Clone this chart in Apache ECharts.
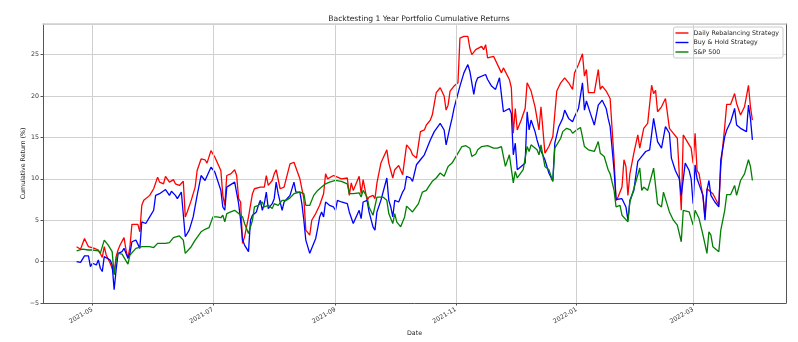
<!DOCTYPE html>
<html><head><meta charset="utf-8">
<script src="https://cdn.jsdelivr.net/npm/echarts@6/dist/echarts.min.js"></script>
<style>html,body{margin:0;padding:0;background:#fff}#c{width:798px;height:342px}</style>
</head><body><div id="c"></div>
<script>
const tickDates = ['2021-05-01','2021-07-01','2021-09-01','2021-11-01','2022-01-01','2022-03-01'];
const xRange = ['2021-04-06','2022-04-17'];
const yTicks = [-5,0,5,10,15,20,25];

const dailyRebalancing = [
['2021-04-23',1.8],['2021-04-25',1.5],['2021-04-27',2.8],['2021-04-29',1.8],['2021-04-30',1.9],['2021-05-02',1.6],['2021-05-04',1.4],['2021-05-05',1.0],['2021-05-06',0.5],['2021-05-07',1.8],['2021-05-08',0.8],['2021-05-10',-0.2],['2021-05-11',-0.8],['2021-05-12',-1.5],['2021-05-13',0.6],['2021-05-14',1.4],['2021-05-15',2.0],['2021-05-17',2.9],['2021-05-18',1.4],['2021-05-19',0.4],['2021-05-20',1.8],['2021-05-21',4.5],['2021-05-24',4.5],['2021-05-25',3.6],['2021-05-26',6.8],['2021-05-27',7.4],['2021-05-30',8.0],
['2021-06-01',8.8],['2021-06-03',10.2],['2021-06-04',9.6],['2021-06-06',9.4],['2021-06-07',10.3],['2021-06-09',9.6],['2021-06-11',9.9],['2021-06-12',9.4],['2021-06-14',9.2],['2021-06-16',9.7],['2021-06-17',5.4],['2021-06-18',6.0],['2021-06-20',7.4],['2021-06-22',9.0],['2021-06-23',11.0],['2021-06-25',12.4],['2021-06-27',12.3],['2021-06-28',11.9],['2021-06-30',13.4],
['2021-07-02',12.6],['2021-07-05',11.0],['2021-07-06',8.0],['2021-07-07',6.8],['2021-07-08',10.4],['2021-07-10',10.6],['2021-07-12',11.1],['2021-07-13',10.4],['2021-07-14',7.6],['2021-07-15',7.2],['2021-07-16',2.2],['2021-07-17',3.0],['2021-07-19',5.4],['2021-07-21',8.2],['2021-07-22',8.8],['2021-07-25',9.0],['2021-07-27',9.0],['2021-07-28',10.4],['2021-07-29',9.2],['2021-07-31',9.8],
['2021-08-01',10.6],['2021-08-02',11.1],['2021-08-04',8.8],['2021-08-06',9.0],['2021-08-07',9.2],['2021-08-09',11.8],['2021-08-11',12.0],['2021-08-14',10.0],['2021-08-16',7.6],['2021-08-17',3.8],['2021-08-19',3.2],['2021-08-20',5.0],['2021-08-22',5.8],['2021-08-24',6.8],['2021-08-26',8.2],['2021-08-27',10.6],['2021-08-28',10.0],['2021-08-31',10.4],
['2021-09-02',10.2],['2021-09-04',10.0],['2021-09-07',10.1],['2021-09-08',8.0],['2021-09-09',9.5],['2021-09-10',8.6],['2021-09-13',10.3],['2021-09-14',8.2],['2021-09-15',9.9],['2021-09-16',9.9],['2021-09-17',7.4],['2021-09-18',7.8],['2021-09-20',8.0],['2021-09-21',7.6],['2021-09-22',9.5],['2021-09-24',11.9],['2021-09-27',13.5],['2021-09-28',11.9],['2021-09-30',10.1],
['2021-10-01',11.1],['2021-10-03',11.6],['2021-10-04',11.5],['2021-10-05',10.5],['2021-10-07',14.1],['2021-10-09',13.5],['2021-10-10',12.9],['2021-10-12',12.5],['2021-10-14',15.7],['2021-10-16',15.9],['2021-10-17',16.5],['2021-10-18',16.3],['2021-10-19',17.1],['2021-10-20',17.7],['2021-10-22',20.4],['2021-10-24',21.0],['2021-10-26',20.0],['2021-10-27',18.3],['2021-10-28',18.9],['2021-10-29',20.6],['2021-10-31',21.2],
['2021-11-01',21.4],['2021-11-02',21.6],['2021-11-03',27.0],['2021-11-05',27.2],['2021-11-07',27.2],['2021-11-08',25.8],['2021-11-09',25.0],['2021-11-11',25.6],['2021-11-14',26.0],['2021-11-15',25.6],['2021-11-16',26.2],['2021-11-17',24.6],['2021-11-20',24.8],['2021-11-21',24.7],['2021-11-24',22.8],['2021-11-25',23.4],['2021-11-28',22.0],['2021-11-29',21.0],['2021-11-30',15.5],
['2021-12-01',18.5],['2021-12-02',15.9],['2021-12-04',17.1],['2021-12-06',18.5],['2021-12-07',21.6],['2021-12-09',20.6],['2021-12-11',18.7],['2021-12-13',15.9],['2021-12-14',18.7],['2021-12-16',13.1],['2021-12-18',13.9],['2021-12-20',15.1],['2021-12-22',20.6],['2021-12-24',21.6],['2021-12-26',22.2],['2021-12-28',21.6],['2021-12-30',20.8],['2021-12-31',22.8],
['2022-01-02',23.8],['2022-01-04',25.1],['2022-01-05',22.4],['2022-01-06',23.2],['2022-01-07',20.4],['2022-01-10',20.4],['2022-01-12',23.2],['2022-01-13',20.8],['2022-01-14',21.2],['2022-01-16',20.6],['2022-01-18',19.7],['2022-01-20',12.3],['2022-01-21',7.4],['2022-01-22',7.8],['2022-01-24',9.0],['2022-01-25',12.3],['2022-01-26',11.5],['2022-01-27',8.0],['2022-01-28',10.6],['2022-01-30',13.1],
['2022-02-01',15.3],['2022-02-02',13.7],['2022-02-04',16.1],['2022-02-06',16.7],['2022-02-08',21.3],['2022-02-09',20.3],['2022-02-10',20.7],['2022-02-11',18.1],['2022-02-13',18.7],['2022-02-15',19.7],['2022-02-16',19.5],['2022-02-17',16.1],['2022-02-19',15.5],['2022-02-21',14.9],['2022-02-23',6.2],['2022-02-24',15.3],['2022-02-26',14.5],['2022-02-28',13.7],
['2022-03-01',11.9],['2022-03-02',15.5],['2022-03-03',11.0],['2022-03-04',10.6],['2022-03-06',7.8],['2022-03-07',5.4],['2022-03-08',8.8],['2022-03-11',8.2],['2022-03-14',6.8],['2022-03-15',11.5],['2022-03-17',16.3],['2022-03-18',19.0],['2022-03-20',19.0],['2022-03-22',20.3],['2022-03-23',19.1],['2022-03-25',17.7],['2022-03-27',18.7],['2022-03-29',21.3],['2022-03-30',18.7],['2022-03-31',17.1]
];

const buyHold = [
['2021-04-23',0.0],['2021-04-25',-0.1],['2021-04-27',0.7],['2021-04-29',0.7],['2021-04-30',-0.6],['2021-05-01',-0.2],['2021-05-03',-0.4],['2021-05-04',0.2],['2021-05-05',-0.8],['2021-05-06',-1.2],['2021-05-07',0.6],['2021-05-08',0.5],['2021-05-10',0.2],['2021-05-11',-0.4],['2021-05-12',-3.4],['2021-05-13',-1.0],['2021-05-14',1.0],['2021-05-16',1.2],['2021-05-17',1.6],['2021-05-19',0.4],['2021-05-20',1.0],['2021-05-21',2.4],['2021-05-23',2.6],['2021-05-25',1.6],['2021-05-26',4.8],['2021-05-28',4.6],['2021-05-30',5.4],
['2021-06-01',6.2],['2021-06-02',8.0],['2021-06-04',8.2],['2021-06-07',8.7],['2021-06-09',8.0],['2021-06-10',8.5],['2021-06-12',8.0],['2021-06-13',7.6],['2021-06-15',8.4],['2021-06-16',8.6],['2021-06-17',3.0],['2021-06-19',3.8],['2021-06-21',5.4],['2021-06-23',8.0],['2021-06-25',10.4],['2021-06-27',9.8],['2021-06-28',9.7],['2021-06-30',11.4],
['2021-07-02',10.8],['2021-07-05',8.6],['2021-07-06',6.6],['2021-07-07',6.2],['2021-07-08',9.0],['2021-07-12',9.6],['2021-07-13',9.4],['2021-07-14',7.0],['2021-07-15',5.0],['2021-07-16',2.6],['2021-07-17',2.0],['2021-07-19',1.2],['2021-07-20',5.0],['2021-07-21',5.6],['2021-07-23',6.0],['2021-07-24',6.8],['2021-07-25',7.4],['2021-07-26',6.2],['2021-07-27',7.0],['2021-07-28',8.4],['2021-07-29',6.4],['2021-07-31',7.0],
['2021-08-01',7.6],['2021-08-02',9.6],['2021-08-03',8.2],['2021-08-05',6.2],['2021-08-06',7.2],['2021-08-07',7.4],['2021-08-09',8.0],['2021-08-11',9.6],['2021-08-12',8.4],['2021-08-14',8.4],['2021-08-15',7.0],['2021-08-16',5.0],['2021-08-17',2.6],['2021-08-19',1.0],['2021-08-20',1.6],['2021-08-22',2.8],['2021-08-23',4.0],['2021-08-24',5.4],['2021-08-25',6.0],['2021-08-26',5.4],['2021-08-27',7.2],['2021-08-29',6.8],['2021-08-31',6.6],
['2021-09-01',6.2],['2021-09-02',7.4],['2021-09-04',7.2],['2021-09-07',7.0],['2021-09-08',6.0],['2021-09-09',6.2],['2021-09-10',4.6],['2021-09-13',6.2],['2021-09-14',5.2],['2021-09-15',7.2],['2021-09-17',7.4],['2021-09-18',6.0],['2021-09-20',4.2],['2021-09-21',3.8],['2021-09-22',6.0],['2021-09-24',7.4],['2021-09-27',10.1],['2021-09-28',7.4],['2021-09-29',6.6],['2021-09-30',5.4],
['2021-10-01',7.4],['2021-10-03',7.2],['2021-10-04',7.0],['2021-10-05',8.4],['2021-10-06',8.8],['2021-10-07',10.3],['2021-10-09',10.1],['2021-10-10',9.7],['2021-10-12',11.7],['2021-10-14',12.3],['2021-10-16',12.9],['2021-10-17',12.8],['2021-10-19',14.7],['2021-10-21',15.7],['2021-10-24',16.7],['2021-10-26',15.9],['2021-10-27',14.1],['2021-10-29',16.3],['2021-10-30',17.3],['2021-10-31',18.5],
['2021-11-01',18.7],['2021-11-03',21.2],['2021-11-05',22.8],['2021-11-07',23.8],['2021-11-08',23.0],['2021-11-10',20.2],['2021-11-11',21.6],['2021-11-12',22.2],['2021-11-16',22.6],['2021-11-17',22.0],['2021-11-19',21.2],['2021-11-21',20.8],['2021-11-22',20.6],['2021-11-23',22.2],['2021-11-25',18.1],['2021-11-28',18.5],['2021-11-29',17.9],['2021-11-30',12.9],
['2021-12-01',14.3],['2021-12-02',11.1],['2021-12-04',11.5],['2021-12-06',11.9],['2021-12-07',18.1],['2021-12-08',15.9],['2021-12-09',17.1],['2021-12-11',15.7],['2021-12-12',14.7],['2021-12-13',13.9],['2021-12-14',14.1],['2021-12-16',12.3],['2021-12-17',11.5],['2021-12-18',10.7],['2021-12-20',9.7],['2021-12-21',14.3],['2021-12-23',16.3],['2021-12-25',17.3],['2021-12-26',18.3],['2021-12-28',17.3],['2021-12-30',16.9],['2021-12-31',17.5],
['2022-01-02',18.5],['2022-01-04',21.6],['2022-01-05',18.3],['2022-01-06',19.4],['2022-01-08',17.9],['2022-01-10',16.5],['2022-01-12',18.9],['2022-01-13',19.2],['2022-01-14',19.5],['2022-01-16',18.5],['2022-01-17',17.3],['2022-01-18',16.3],['2022-01-20',11.0],['2022-01-21',7.5],['2022-01-24',7.6],['2022-01-26',6.6],['2022-01-27',5.0],['2022-01-28',7.4],['2022-01-30',8.6],
['2022-02-01',12.1],['2022-02-03',12.7],['2022-02-05',13.3],['2022-02-07',13.5],['2022-02-09',17.3],['2022-02-11',14.5],['2022-02-13',13.7],['2022-02-15',16.3],['2022-02-17',15.5],['2022-02-18',12.5],['2022-02-20',11.0],['2022-02-22',10.0],['2022-02-23',8.0],['2022-02-25',11.9],['2022-02-27',11.0],['2022-02-28',10.0],
['2022-03-01',7.0],['2022-03-02',11.7],['2022-03-03',10.0],['2022-03-04',10.2],['2022-03-06',8.0],['2022-03-07',5.0],['2022-03-08',8.6],['2022-03-09',9.8],['2022-03-10',8.0],['2022-03-12',7.2],['2022-03-14',6.6],['2022-03-15',12.3],['2022-03-17',15.1],['2022-03-18',15.9],['2022-03-20',16.9],['2022-03-22',18.5],['2022-03-23',16.5],['2022-03-25',16.1],['2022-03-28',15.7],['2022-03-29',18.9],['2022-03-30',17.3],['2022-03-31',14.7]
];

const sp500 = [
['2021-04-23',1.3],['2021-04-26',1.5],['2021-04-29',1.4],['2021-05-01',1.4],['2021-05-04',1.3],['2021-05-05',1.0],['2021-05-07',2.6],['2021-05-09',2.0],['2021-05-11',1.2],['2021-05-12',-1.6],['2021-05-13',0.2],['2021-05-14',1.0],['2021-05-16',0.9],['2021-05-19',-0.3],['2021-05-20',0.8],['2021-05-21',0.8],['2021-05-23',1.6],['2021-05-26',1.8],['2021-05-30',1.8],
['2021-06-01',1.7],['2021-06-03',2.2],['2021-06-07',2.2],['2021-06-09',2.3],['2021-06-11',2.9],['2021-06-14',3.1],['2021-06-16',2.6],['2021-06-17',1.0],['2021-06-20',1.8],['2021-06-22',2.6],['2021-06-25',3.6],['2021-06-27',3.9],['2021-06-29',4.1],
['2021-07-01',5.4],['2021-07-03',5.4],['2021-07-05',5.3],['2021-07-06',5.6],['2021-07-07',4.8],['2021-07-08',5.8],['2021-07-10',6.0],['2021-07-12',6.2],['2021-07-14',5.8],['2021-07-16',5.4],['2021-07-17',4.6],['2021-07-19',3.4],['2021-07-21',5.0],['2021-07-22',6.6],['2021-07-24',6.8],['2021-07-26',7.2],['2021-07-27',6.6],['2021-07-29',6.8],['2021-07-31',6.4],
['2021-08-01',7.0],['2021-08-03',6.8],['2021-08-05',7.4],['2021-08-07',7.4],['2021-08-09',7.7],['2021-08-11',8.2],['2021-08-14',8.4],['2021-08-16',8.2],['2021-08-17',6.8],['2021-08-19',6.8],['2021-08-21',8.0],['2021-08-23',8.6],['2021-08-25',9.0],['2021-08-27',9.4],['2021-08-29',9.6],
['2021-09-01',9.8],['2021-09-02',9.9],['2021-09-04',9.7],['2021-09-07',9.4],['2021-09-08',8.2],['2021-09-10',8.2],['2021-09-13',8.3],['2021-09-14',7.8],['2021-09-15',8.6],['2021-09-17',7.8],['2021-09-18',6.6],['2021-09-20',5.6],['2021-09-21',5.8],['2021-09-22',7.8],['2021-09-25',7.8],['2021-09-27',7.4],['2021-09-28',5.8],['2021-09-30',4.6],
['2021-10-01',5.8],['2021-10-02',4.8],['2021-10-04',4.2],['2021-10-06',5.4],['2021-10-07',6.7],['2021-10-10',6.0],['2021-10-13',7.0],['2021-10-15',8.4],['2021-10-17',8.6],['2021-10-18',9.0],['2021-10-20',9.7],['2021-10-22',10.1],['2021-10-24',10.7],['2021-10-25',10.9],['2021-10-26',10.3],['2021-10-28',11.5],['2021-10-30',11.9],['2021-10-31',12.1],
['2021-11-02',13.1],['2021-11-04',13.9],['2021-11-06',14.0],['2021-11-08',13.7],['2021-11-09',12.7],['2021-11-11',13.0],['2021-11-12',13.5],['2021-11-14',13.9],['2021-11-17',14.0],['2021-11-20',13.7],['2021-11-22',13.7],['2021-11-24',13.9],['2021-11-26',11.5],['2021-11-28',12.9],['2021-11-30',9.5],
['2021-12-01',10.9],['2021-12-02',10.1],['2021-12-05',11.1],['2021-12-07',13.9],['2021-12-08',13.3],['2021-12-09',14.1],['2021-12-12',13.5],['2021-12-13',12.9],['2021-12-14',14.1],['2021-12-16',11.5],['2021-12-18',11.1],['2021-12-20',9.7],['2021-12-21',13.7],['2021-12-24',14.9],['2021-12-25',15.7],['2021-12-27',16.1],['2021-12-29',15.9],['2021-12-30',15.5],
['2022-01-01',15.9],['2022-01-03',16.2],['2022-01-04',16.2],['2022-01-05',13.9],['2022-01-07',13.5],['2022-01-10',13.3],['2022-01-12',14.5],['2022-01-13',13.1],['2022-01-15',12.7],['2022-01-17',11.1],['2022-01-18',10.6],['2022-01-20',8.6],['2022-01-21',6.6],['2022-01-23',6.8],['2022-01-24',5.6],['2022-01-27',4.8],['2022-01-28',7.2],['2022-01-30',8.8],
['2022-02-02',11.3],['2022-02-03',8.6],['2022-02-04',9.0],['2022-02-06',8.6],['2022-02-09',11.3],['2022-02-11',7.0],['2022-02-13',6.6],['2022-02-14',8.4],['2022-02-17',6.0],['2022-02-19',5.0],['2022-02-21',4.4],['2022-02-23',2.4],['2022-02-24',6.2],['2022-02-27',6.0],
['2022-03-01',4.4],['2022-03-02',6.2],['2022-03-04',5.2],['2022-03-06',3.2],['2022-03-08',1.0],['2022-03-09',3.6],['2022-03-10',3.2],['2022-03-11',1.8],['2022-03-14',1.2],['2022-03-15',3.8],['2022-03-17',6.2],['2022-03-18',8.1],['2022-03-20',8.1],['2022-03-21',8.0],['2022-03-22',9.2],['2022-03-23',8.0],['2022-03-25',9.8],['2022-03-27',10.6],['2022-03-29',12.3],['2022-03-30',11.5],['2022-03-31',9.8]
];

const FONT = 'DejaVu Sans';
const ts = s => new Date(s + 'T00:00:00').getTime();
const tickTs = tickDates.map(ts);
const mk = (name, data, color) => ({
  name, type: 'line', data: data.map(d => [ts(d[0]), d[1]]),
  showSymbol: false, symbol: 'none', lineStyle: { color, width: 1.3 }, itemStyle: { color }, z: 3
});
const fmtMonth = v => { const d = new Date(v); return d.getFullYear() + '-' + String(d.getMonth() + 1).padStart(2, '0'); };

const series = [
  mk('Daily Rebalancing Strategy', dailyRebalancing, '#ff0000'),
  mk('Buy & Hold Strategy', buyHold, '#0000ff'),
  mk('S&P 500', sp500, '#008000')
];
// vertical grid lines at the date ticks
series.push({
  name: 'xgrid', type: 'line', data: [], silent: true, z: 1,
  markLine: {
    silent: true, symbol: 'none', animation: false,
    label: { show: false },
    lineStyle: { color: '#d0d0d0', width: 1, type: 'solid' },
    data: tickTs.map(t => ({ xAxis: t }))
  }
});

const spine = '#555';
const chart = echarts.init(document.getElementById('c'), null, { renderer: 'canvas' });
chart.setOption({
  animation: false,
  backgroundColor: '#fff',
  title: {
    text: 'Backtesting 1 Year Portfolio Cumulative Returns',
    left: 414, top: 10, textAlign: 'center',
    textStyle: { fontFamily: FONT, fontSize: 7.6, fontWeight: 'normal', color: '#222' }
  },
  legend: {
    orient: 'vertical', right: 15, top: 27,
    data: ['Daily Rebalancing Strategy', 'Buy & Hold Strategy', 'S&P 500'],
    icon: 'rect', itemWidth: 13, itemHeight: 1.4, itemGap: 1.5,
    padding: [2, 4, 2, 2],
    borderColor: '#ccc', borderWidth: 1, borderRadius: 2, backgroundColor: 'rgba(255,255,255,0.8)',
    textStyle: { fontFamily: FONT, fontSize: 6.3, color: '#222', lineHeight: 8 }
  },
  grid: { left: 43, right: 12, top: 24, bottom: 39, show: false },
  xAxis: [{
    type: 'value', min: ts(xRange[0]), max: ts(xRange[1]), scale: true,
    name: 'Date', nameLocation: 'middle', nameGap: 27, nameMoveOverlap: false,
    nameTextStyle: { fontFamily: FONT, fontSize: 6.3, color: '#222' },
    axisLine: { show: true, onZero: false, lineStyle: { color: spine, width: 1 } },
    axisTick: { show: true, customValues: tickTs, length: 2.5, lineStyle: { color: spine } },
    axisLabel: {
      customValues: tickTs, rotate: 30, margin: 6,
      fontFamily: FONT, fontSize: 6.3, color: '#333',
      formatter: fmtMonth
    },
    splitLine: { show: false }
  }, {
    type: 'value', position: 'top', min: ts(xRange[0]), max: ts(xRange[1]), scale: true,
    axisLine: { show: true, onZero: false, lineStyle: { color: '#cfcfcf', width: 1.5 } },
    axisTick: { show: false }, axisLabel: { show: false }, splitLine: { show: false }
  }],
  yAxis: [{
    type: 'value', min: -5, max: 28.7, interval: 5,
    name: 'Cumulative Return (%)', nameLocation: 'middle', nameGap: 17, nameRotate: 90, nameMoveOverlap: false,
    nameTextStyle: { fontFamily: FONT, fontSize: 6.3, color: '#222' },
    axisLine: { show: true, onZero: false, lineStyle: { color: spine, width: 1 } },
    axisTick: { show: true, length: 2.5, lineStyle: { color: spine } },
    axisLabel: {
      fontFamily: FONT, fontSize: 6.3, color: '#333', margin: 4, showMaxLabel: false,
      formatter: v => yTicks.includes(v) ? (v < 0 ? '\u2212' + Math.abs(v) : String(v)) : ''
    },
    splitLine: { show: true, lineStyle: { color: '#d0d0d0', width: 1 } }
  }, {
    type: 'value', position: 'right', min: -5, max: 28.7, interval: 5,
    axisLine: { show: true, onZero: false, lineStyle: { color: spine, width: 1 } },
    axisTick: { show: false }, axisLabel: { show: false }, splitLine: { show: false }
  }],
  series
});
</script>
</body></html>
